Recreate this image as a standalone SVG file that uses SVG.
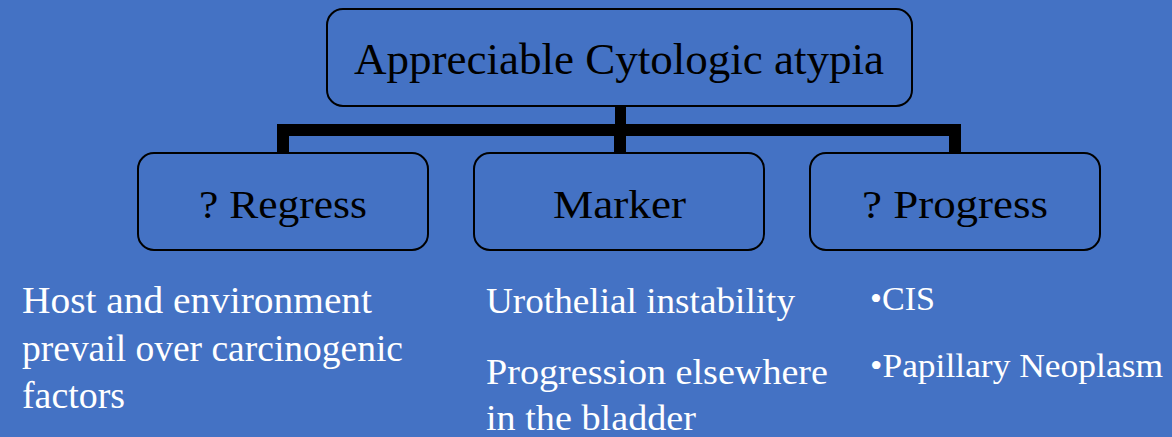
<svg xmlns="http://www.w3.org/2000/svg" width="1172" height="437" viewBox="0 0 1172 437">
  <style>
    .box { fill: #4472C4; stroke: #000; stroke-width: 2; }
    .lbl { font-family: "Liberation Serif", "Times New Roman", serif; fill: #000; }
    .note { font-family: "Liberation Serif", "Times New Roman", serif; fill: #fff; }
    .conn { stroke: #000; fill: none; }
  </style>
  <rect x="0" y="0" width="1172" height="437" fill="#4472C4"/>
  <g id="connectors">
    <rect x="277" y="124" width="684" height="12" fill="#000"/>
    <rect x="615" y="106" width="11" height="19" fill="#000"/>
    <rect x="277" y="135" width="12" height="19" fill="#000"/>
    <rect x="614" y="135" width="12" height="19" fill="#000"/>
    <rect x="949" y="135" width="12" height="19" fill="#000"/>
  </g>
  <g id="node-root">
    <rect class="box" x="327" y="9" width="585" height="97" rx="16"/>
    <text class="lbl" x="354" y="74" font-size="44" textLength="530" lengthAdjust="spacingAndGlyphs">Appreciable Cytologic atypia</text>
  </g>
  <g id="node-regress">
    <rect class="box" x="138" y="153" width="290" height="97" rx="16"/>
    <text class="lbl" x="199" y="218" font-size="40" textLength="168" lengthAdjust="spacingAndGlyphs">? Regress</text>
  </g>
  <g id="node-marker">
    <rect class="box" x="474" y="153" width="290" height="97" rx="16"/>
    <text class="lbl" x="553" y="218" font-size="40" textLength="133" lengthAdjust="spacingAndGlyphs">Marker</text>
  </g>
  <g id="node-progress">
    <rect class="box" x="810" y="153" width="290" height="97" rx="16"/>
    <text class="lbl" x="862" y="218" font-size="40" textLength="186" lengthAdjust="spacingAndGlyphs">? Progress</text>
  </g>
  <g id="text-regress">
    <text class="note" x="22" y="313" font-size="37" textLength="350" lengthAdjust="spacingAndGlyphs">Host and environment</text>
    <text class="note" x="22" y="361" font-size="37" textLength="381" lengthAdjust="spacingAndGlyphs">prevail over carcinogenic</text>
    <text class="note" x="22" y="408" font-size="37" textLength="103" lengthAdjust="spacingAndGlyphs">factors</text>
  </g>
  <g id="text-marker">
    <text class="note" x="486" y="313" font-size="36" textLength="309" lengthAdjust="spacingAndGlyphs">Urothelial instability</text>
    <text class="note" x="486" y="384" font-size="35" textLength="342" lengthAdjust="spacingAndGlyphs">Progression elsewhere</text>
    <text class="note" x="486" y="430" font-size="35" textLength="210" lengthAdjust="spacingAndGlyphs">in the bladder</text>
  </g>
  <g id="text-progress">
    <text class="note" x="870" y="310" font-size="33" textLength="65" lengthAdjust="spacingAndGlyphs">•CIS</text>
    <text class="note" x="870" y="377" font-size="33" textLength="293" lengthAdjust="spacingAndGlyphs">•Papillary Neoplasm</text>
  </g>
</svg>
